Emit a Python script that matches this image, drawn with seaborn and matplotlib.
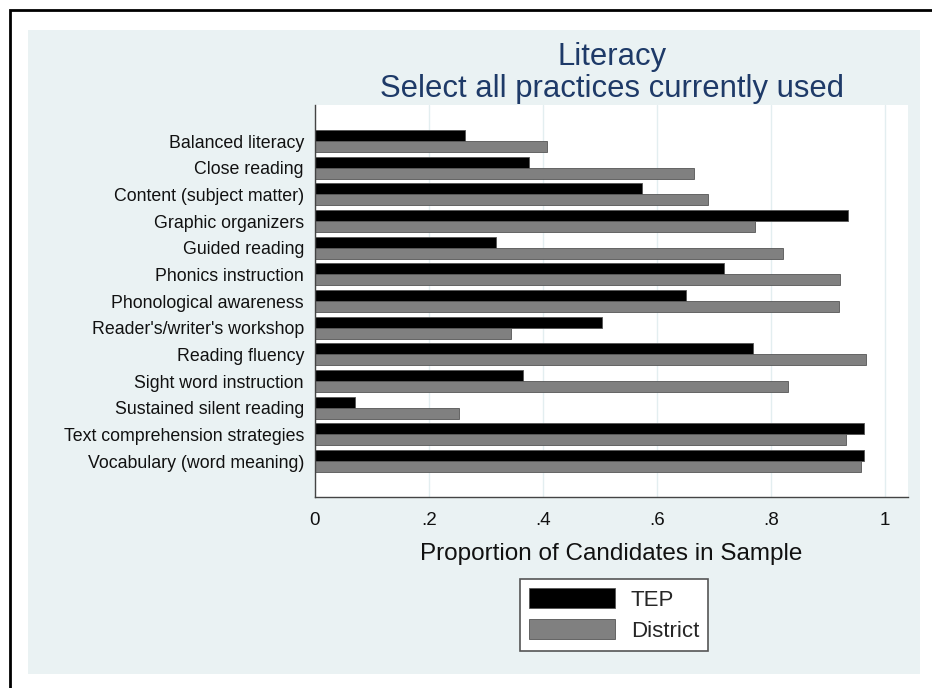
import pandas as pd
import seaborn as sns
import matplotlib.pyplot as plt
from matplotlib.patches import Rectangle

# Dados
practices = ['Balanced literacy', 'Close reading', 'Content (subject matter)',
             'Graphic organizers', 'Guided reading', 'Phonics instruction',
             'Phonological awareness', "Reader's/writer's workshop",
             'Reading fluency', 'Sight word instruction', 'Sustained silent reading',
             'Text comprehension strategies', 'Vocabulary (word meaning)']
tep = [0.263, 0.376, 0.574, 0.935, 0.318, 0.718, 0.650, 0.503,
       0.769, 0.364, 0.071, 0.962, 0.962]
district = [0.407, 0.665, 0.690, 0.772, 0.820, 0.921, 0.919, 0.344,
            0.967, 0.829, 0.252, 0.931, 0.958]
groups = ['TEP', 'District']
ticks = [0, 0.2, 0.4, 0.6, 0.8, 1]
tick_labels = ['0', '.2', '.4', '.6', '.8', '1']

df = pd.DataFrame({'practice': practices * 2,
                   'value': tep + district,
                   'group': ['TEP'] * len(practices) + ['District'] * len(practices)})

sns.set_style('white')
plt.rcParams['font.family'] = ['Liberation Sans', 'DejaVu Sans']

fig = plt.figure(figsize=(9.32, 6.88), dpi=100)
fig.patch.set_facecolor('white')

# painel de fundo estilo Stata
fig.patches.append(Rectangle((28 / 932, 1 - 674 / 688), (920 - 28) / 932, (674 - 30) / 688,
                             transform=fig.transFigure, facecolor='#eaf2f3',
                             edgecolor='none', zorder=-2))
# borda externa
fig.patches.append(Rectangle((10 / 932, -0.01), 1.0, 1 - 10 / 688 + 0.01,
                             transform=fig.transFigure, facecolor='none',
                             edgecolor='black', linewidth=2, zorder=-1))

ax = fig.add_axes([315 / 932, 1 - 497 / 688, (908 - 315) / 932, (497 - 105) / 688])
ax.set_facecolor('white')

sns.barplot(data=df, y='practice', x='value', hue='group', hue_order=groups,
            palette=['black', '#808080'], orient='h', width=0.82,
            edgecolor='#555555', linewidth=0.6, ax=ax, legend=True)

ax.set_xlim(0, 1.04)
ax.set_ylim(len(practices) - 1 + 1.35, -1.35)
ax.set_xticks(ticks)
ax.set_xticklabels(tick_labels, fontsize=13.5)
ax.tick_params(axis='x', length=7, width=1, color='#444444', pad=4, labelcolor='#111111')
ax.tick_params(axis='y', length=0, labelsize=12.8, pad=8, labelcolor='#111111')
ax.xaxis.grid(True, color='#e3eef0', linewidth=1)
ax.set_axisbelow(True)
for s in ['top', 'right']:
    ax.spines[s].set_visible(False)
for s in ['left', 'bottom']:
    ax.spines[s].set_color('#444444')
    ax.spines[s].set_linewidth(1)
ax.set_ylabel('')
ax.set_xlabel('Proportion of Candidates in Sample', fontsize=17.5, color='#111111', labelpad=10)

# legenda abaixo
h, l = ax.get_legend_handles_labels()
ax.get_legend().remove()
leg = fig.legend(h, l, loc='center', bbox_to_anchor=(614 / 932, 1 - 615 / 688),
                 fontsize=16, frameon=True, fancybox=False, handlelength=3.9,
                 handleheight=1.0, labelspacing=0.4, borderpad=0.4, handletextpad=0.7,
                 framealpha=1, facecolor='white')
leg.get_frame().set_edgecolor('#555555')
leg.get_frame().set_linewidth(1.2)

fig.text(612 / 932, 1 - 73 / 688, 'Literacy\nSelect all practices currently used',
         ha='center', va='center', fontsize=22.3, color='#1e3a68', linespacing=1.05)

fig.savefig('out.png', dpi=100)
